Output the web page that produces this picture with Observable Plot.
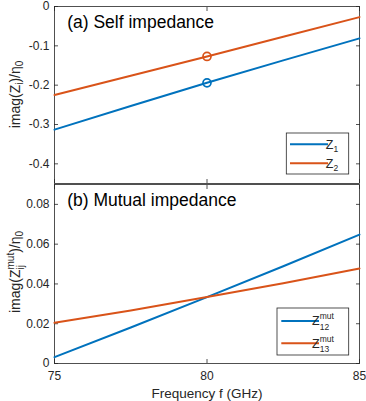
<!DOCTYPE html>
<html><head><meta charset="utf-8">
<script src="https://cdn.jsdelivr.net/npm/d3@7"></script>
<script src="https://cdn.jsdelivr.net/npm/@observablehq/plot@0.6"></script>
<style>
body{margin:0;background:#fff;font-family:"Liberation Sans",Arial,sans-serif}
#chart svg{display:block;overflow:visible}
</style>
</head><body><div id="chart"></div>
<script>
// ---- data ----
const freq = [75, 77.5, 80, 82.5, 85];
const selfZ1 = [-0.313, -0.253, -0.194, -0.137, -0.081];
const selfZ2 = [-0.225, -0.176, -0.127, -0.077, -0.027];
const mutZ12 = [0.0032, 0.0181, 0.0334, 0.0489, 0.0648];
const mutZ13 = [0.0205, 0.0267, 0.0334, 0.0404, 0.0478];
const markerFreq = 80;
const xTicks = [75, 80, 85];
const yTicksTop = [-0.4, -0.3, -0.2, -0.1, 0];
const yTicksBottom = [0, 0.02, 0.04, 0.06, 0.08];
const titleTop = "(a) Self impedance";
const titleBottom = "(b) Mutual impedance";
const xLabel = "Frequency f (GHz)";

const blue = "#0072BD", orange = "#D95319", ink = "#262626";
const font = "Liberation Sans, Arial, sans-serif";

const rows = (ys) => freq.map((f, i) => ({f, v: ys[i]}));
const fmt = d => d === 0 ? "0" : String(d);

function frameMarks(yTicks, showX) {
  return [
    Plot.frame({stroke: ink, strokeWidth: 0.8}),
    Plot.axisY({anchor: "left", ticks: yTicks, tickSize: 4, dx: 4, fill: "none", stroke: ink, strokeWidth: 0.8, label: null}),
    Plot.axisY({anchor: "right", ticks: yTicks, tickSize: 4, dx: -4, fill: "none", stroke: ink, strokeWidth: 0.8, label: null}),
    Plot.axisX({anchor: "top", ticks: xTicks, tickSize: 4, dy: 4, fill: "none", stroke: ink, strokeWidth: 0.8, label: null}),
    Plot.axisX({anchor: "bottom", ticks: xTicks, tickSize: 4, dy: -4, fill: "none", stroke: ink, strokeWidth: 0.8, label: null}),
    Plot.axisY({anchor: "left", ticks: yTicks, tickSize: 0, tickPadding: 5, tickFormat: fmt, fill: ink, fontSize: 12, label: null}),
    ...(showX ? [Plot.axisX({anchor: "bottom", ticks: xTicks, tickSize: 0, tickPadding: 8, tickFormat: fmt, fill: ink, fontSize: 12, label: null})] : [])
  ];
}

const topPlot = Plot.plot({
  width: 366, height: 184, marginTop: 6, marginBottom: 1, marginLeft: 54, marginRight: 7,
  style: {fontFamily: font, color: ink, background: "transparent"},
  x: {domain: [75, 85]},
  y: {domain: [-0.45, 0]},
  marks: [
    ...frameMarks(yTicksTop, false),
    Plot.line(rows(selfZ1), {x: "f", y: "v", stroke: blue, strokeWidth: 2}),
    Plot.line(rows(selfZ2), {x: "f", y: "v", stroke: orange, strokeWidth: 2}),
    Plot.dot(rows(selfZ1).filter(d => d.f === markerFreq), {x: "f", y: "v", r: 4, stroke: blue, strokeWidth: 1.7, fill: "none"}),
    Plot.dot(rows(selfZ2).filter(d => d.f === markerFreq), {x: "f", y: "v", r: 4, stroke: orange, strokeWidth: 1.7, fill: "none"}),
    Plot.text([titleTop], {frameAnchor: "top-left", dx: 12.7, dy: 15.4, textAnchor: "start", lineAnchor: "middle", fontSize: 17.5, fill: "black"})
  ]
});

const bottomPlot = Plot.plot({
  width: 366, height: 217, marginTop: 0, marginBottom: 38, marginLeft: 54, marginRight: 7,
  style: {fontFamily: font, color: ink, background: "transparent"},
  x: {domain: [75, 85]},
  y: {domain: [0, 0.09]},
  marks: [
    ...frameMarks(yTicksBottom, true),
    Plot.line(rows(mutZ12), {x: "f", y: "v", stroke: blue, strokeWidth: 2}),
    Plot.line(rows(mutZ13), {x: "f", y: "v", stroke: orange, strokeWidth: 2}),
    Plot.text([titleBottom], {frameAnchor: "top-left", dx: 12.7, dy: 15.4, textAnchor: "start", lineAnchor: "middle", fontSize: 17.5, fill: "black"}),
    Plot.text([xLabel], {frameAnchor: "bottom", dy: 30, lineAnchor: "middle", fontSize: 13.5, fill: ink})
  ]
});

// ---- rich-text labels and legends (sub/superscripts) ----
function yLabel(svg, cy, parts) {
  const g = d3.select(svg).append("g").attr("transform", `translate(15,${cy}) rotate(-90)`);
  const t = g.append("text").attr("text-anchor", "middle").attr("font-size", 14)
    .attr("font-family", font).attr("fill", ink).attr("dy", "0.35em");
  parts.forEach(p => {
    const s = t.append("tspan").text(p.t);
    if (p.fs) s.attr("font-size", p.fs);
    if (p.dy) s.attr("dy", p.dy);
    if (p.dx) s.attr("dx", p.dx);
  });
}
yLabel(topPlot, 94.5, [
  {t: "imag(Z"}, {t: "i", fs: 10, dy: 3.5}, {t: ")/η", dy: -3.5}, {t: "0", fs: 10, dy: 3.5}
]);
yLabel(bottomPlot, 88, [
  {t: "imag(Z"}, {t: "mut", fs: 10, dy: -6}, {t: "ij", fs: 10, dx: -16.7, dy: 10},
  {t: ")/η", dx: 12.2, dy: -4}, {t: "0", fs: 10, dy: 3.5}
]);

function legend(svg, box, items) {
  const g = d3.select(svg).append("g").attr("font-family", font);
  g.append("rect").attr("x", box[0]).attr("y", box[1]).attr("width", box[2]).attr("height", box[3])
    .attr("fill", "white").attr("stroke", ink).attr("stroke-width", 0.8);
  items.forEach(it => {
    g.append("line").attr("x1", it.x1).attr("x2", it.x2).attr("y1", it.y).attr("y2", it.y)
      .attr("stroke", it.color).attr("stroke-width", 2);
    const t = g.append("text").attr("x", it.x2 + 4).attr("y", it.y + 4.4).attr("font-size", 12.5).attr("fill", ink);
    t.append("tspan").text("Z");
    if (it.sup) {
      t.append("tspan").text(it.sup).attr("font-size", 8.5).attr("dy", -6);
      t.append("tspan").text(it.sub).attr("font-size", 8.5).attr("dx", -14.2).attr("dy", 10.5);
    } else {
      t.append("tspan").text(it.sub).attr("font-size", 8.5).attr("dy", 3.5);
    }
  });
}
legend(topPlot, [286.3, 133, 62.4, 41], [
  {x1: 290, x2: 328, y: 144.3, color: blue, sub: "1"},
  {x1: 290, x2: 328, y: 163.3, color: orange, sub: "2"}
]);
legend(bottomPlot, [277, 124, 71.7, 47], [
  {x1: 281.3, x2: 319, y: 137, color: blue, sup: "mut", sub: "12"},
  {x1: 281.3, x2: 319, y: 159.3, color: orange, sup: "mut", sub: "13"}
]);

document.getElementById("chart").append(topPlot, bottomPlot);
</script>
</body></html>
